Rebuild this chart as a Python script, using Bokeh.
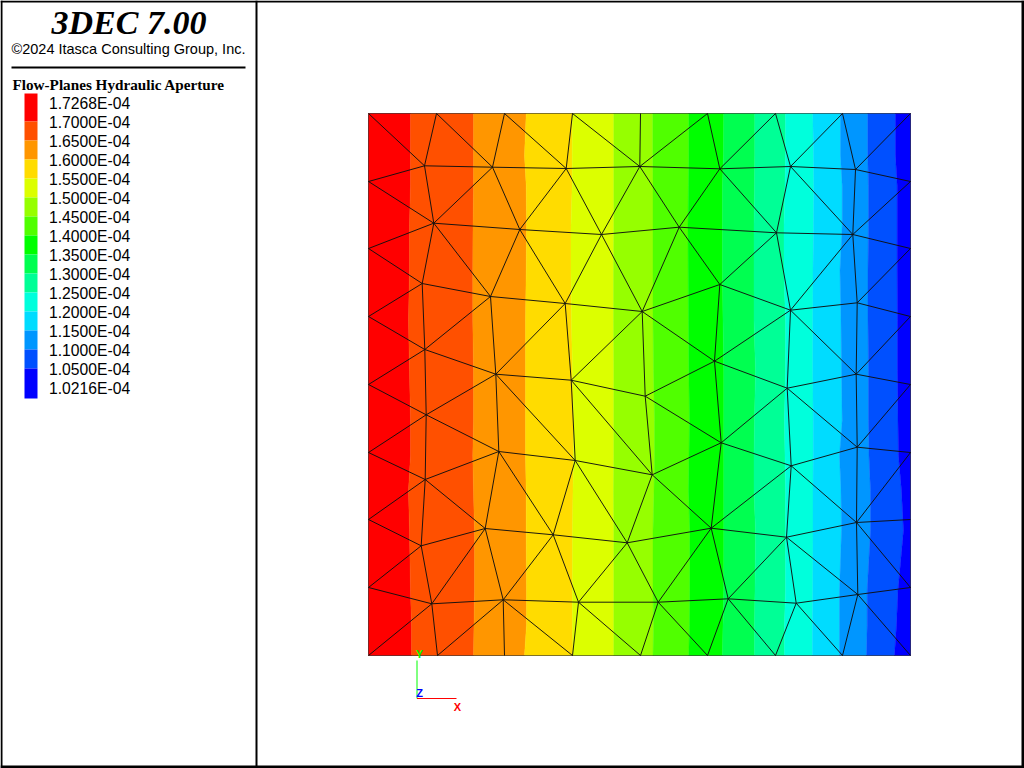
from bokeh.plotting import figure
from bokeh.embed import file_html
from bokeh.resources import INLINE
from bokeh.core.properties import value

# ---------- data ----------
title_text = "3DEC 7.00"
copyright_text = "\u00a92024 Itasca Consulting Group, Inc."
legend_title = "Flow-Planes Hydraulic Aperture"
legend_labels = ["1.7268E-04", "1.7000E-04", "1.6500E-04", "1.6000E-04", "1.5500E-04",
                 "1.5000E-04", "1.4500E-04", "1.4000E-04", "1.3500E-04", "1.3000E-04",
                 "1.2500E-04", "1.2000E-04", "1.1500E-04", "1.1000E-04", "1.0500E-04",
                 "1.0216E-04"]
band_colors = ["#FF0000", "#FF5000", "#FF9600", "#FFDC00", "#DCFF00", "#96FF00", "#50FF00",
               "#00FF00", "#00FF50", "#00FF96", "#00FFDC", "#00DCFF", "#0096FF", "#0050FF",
               "#0000FF"]

# contour level boundaries: x at each sampled height
sample_y = [113, 155, 185, 225, 270, 320, 370, 420, 455, 490, 530, 590, 625, 655]
level_170 = [410, 410, 410, 409, 409, 408, 409, 410, 410, 408, 409, 410, 411, 411]
level_165 = [473, 473, 473, 472.5, 472.3, 472.3, 473, 473, 472.3, 473, 474, 474, 473.5, 473]
level_160 = [525.7, 524, 525.7, 526, 525.7, 525, 525, 525, 525, 525.7, 525.7, 526, 526, 524]
level_155 = [571.7, 571.7, 571.7, 570.5, 570.5, 571, 572, 573, 573, 572.5, 572, 572, 572, 572.5]
level_150 = [613.3, 613.3, 613.3, 613.3, 613, 613, 613.3, 613.3, 613.3, 613, 613.3, 613.3, 613.3, 613.3]
level_145 = [652.3, 652.3, 652.5, 652.5, 652.5, 652.5, 653, 654, 654, 653.5, 652.5, 652.5, 653, 652.5]
level_140 = [688.3, 688.3, 688, 687.5, 687.7, 688, 688.3, 689, 688.5, 688, 689.3, 689.3, 689, 688.3]
level_135 = [723.3, 723, 722, 722, 722, 722.5, 723.3, 723.3, 723.3, 723.3, 723.3, 723.3, 722.5, 722]
level_130 = [754.3, 754.3, 754, 753.5, 753.5, 753.5, 755, 754, 753.5, 753.5, 755, 754.5, 754, 754]
level_125 = [785, 785, 784.5, 783.5, 783.5, 785, 785, 784, 784.5, 785, 785, 785, 784, 784]
level_120 = [812.3, 813, 813.3, 813, 812.5, 812.3, 812.3, 812.7, 812.7, 812.5, 812.5, 812.3, 812, 812]
level_115 = [840, 840, 841.7, 841.7, 839.5, 840.5, 841, 841.7, 839, 840.5, 841, 839, 839, 839]
level_110 = [867.3, 867.3, 868, 868, 867.5, 867.5, 868, 868, 868.5, 870, 870, 866.7, 866.7, 866]
level_105 = [895, 895, 896.7, 896.7, 896.7, 897, 897, 897.5, 898, 901, 903, 897.5, 896, 894]
plate_left = [368] * 14
plate_right = [910] * 14

# mesh nodes
nodes = {
    "T0": (368, 113), "T1": (436, 113), "T2": (504, 113), "T3": (572, 113), "T4": (640, 113),
    "T5": (707, 113), "T6": (775, 113), "T7": (842, 113), "T8": (910, 113),
    "S0": (368, 655), "S1": (437, 655), "S2": (504, 655), "S3": (572, 655), "S4": (640, 655),
    "S5": (707, 655), "S6": (775, 655), "S7": (842, 655), "S8": (910, 655),
    "L1": (368, 181), "L2": (368, 248), "L3": (368, 316), "L4": (368, 384),
    "L5": (368, 452), "L6": (368, 519), "L7": (368, 587),
    "R1": (910, 181), "R2": (910, 248), "R3": (910, 316), "R4": (910, 384),
    "R5": (910, 452), "R6": (910, 519), "R7": (910, 587),
    "A1": (424, 165.3), "A2": (492, 166.7), "A3": (565.7, 168), "A4": (639.3, 166),
    "A5": (719.3, 168.3), "A6": (790, 166), "A7": (855, 169),
    "B1": (433.3, 222.7), "B2": (519.3, 229), "B3": (601, 234), "B4": (678.7, 226.7),
    "B5": (776, 232.3), "B6": (852.3, 234),
    "C1": (421.7, 283), "C2": (490, 296), "C3": (564.7, 303), "C4": (641.7, 311),
    "C5": (719.3, 284), "C6": (790, 309.7), "C7": (856.7, 302.3),
    "D1": (424.3, 349), "D2": (495.3, 373.7), "D3": (570.7, 379.7), "D4": (644.7, 395.7),
    "D5": (714, 360.7), "D6": (786.7, 387.7), "D7": (855.7, 373.7),
    "E1": (425.7, 414.3), "E2": (498.3, 451), "E3": (574.7, 460), "E4": (651.7, 474.3),
    "E5": (720.7, 442.3), "E6": (790.7, 465.3), "E7": (856.7, 446.7),
    "F1": (424.7, 479), "F2": (484.7, 528), "F3": (552.7, 534.3), "F4": (626.7, 542.3),
    "F5": (710.7, 527.7), "F6": (786, 536.7), "F7": (856, 522),
    "G1": (420.7, 545.3), "G2": (431.3, 603.3), "G3": (502.7, 599.3), "G4": (578, 601.7),
    "G5": (657.7, 601.7), "G6": (727.7, 598.3), "G7": (795.7, 602.7), "G8": (857.3, 594),
}
mesh_edges = """T0-A1 T1-A1 T1-A2 T2-A2 T2-A3 T3-A3 T3-A4 T4-A4 T5-A4 T5-A5 T6-A5 T6-A6 T7-A6 T7-A7 T8-A7
A1-A2 A2-A3 A3-A4 A4-A5 A5-A6 A6-A7 L1-A1 L1-B1 A1-B1 A2-B1 A2-B2 A3-B2 A3-B3 A4-B3 A4-B4 A5-B4
A5-B5 A6-B5 A6-B6 A7-B6 A7-R1 B1-B2 B2-B3 B3-B4 B4-B5 B5-B6 B6-R1 B6-R2
L2-B1 L2-C1 B1-C1 B1-C2 B2-C2 B2-C3 B3-C3 B3-C4 B4-C4 B4-C5 B5-C5 B5-C6 B6-C6 B6-C7 C7-R2
C1-C2 C2-C3 C3-C4 C4-C5 C5-C6 C6-C7 C7-R3 L3-C1 L3-D1 C1-D1 C2-D1 C2-D2 C3-D2 C3-D3 C4-D3 C4-D4
C4-D5 C5-D5 C6-D5 C6-D6 C6-D7 C7-D7 D7-R3 D7-R4 D1-D2 D2-D3 D3-D4 D4-D5 D5-D6 D6-D7
L4-D1 L4-E1 D1-E1 D2-E1 D2-E2 D2-E3 D3-E3 D3-E4 D4-E4 D4-E5 D5-E5 D6-E5 D6-E6 D6-E7 D7-E7 E7-R4
E1-E2 E2-E3 E3-E4 E4-E5 E5-E6 E6-E7 E7-R5 L5-E1 L5-F1 E1-F1 E2-F1 E2-F2 E2-F3 E3-F3 E3-F4 E4-F4
E4-F5 E5-F5 E6-F5 E6-F6 E6-F7 E7-F7 F7-R5 F7-R6 F1-F2 F2-F3 F3-F4 F4-F5 F5-F6 F6-F7
L6-F1 L6-G1 F1-G1 F2-G1 F2-G2 F2-G3 F3-G3 F3-G4 F4-G4 F4-G5 F5-G5 F5-G6 F6-G6 F6-G7 F6-G8 F7-G8 F7-R7
G1-G2 G2-G3 G3-G4 G4-G5 G5-G6 G6-G7 G7-G8 G8-R7 L7-G1 L7-G2 S0-G2 S1-G2 S1-G3 S2-G3 S3-G3 S3-G4
S4-G4 S4-G5 S5-G5 S5-G6 S6-G6 S6-G7 S7-G7 S7-G8 S8-G8""".split()
boundary_nodes = ["T0", "T1", "T2", "T3", "T4", "T5", "T6", "T7", "T8", "R1", "R2", "R3", "R4",
                  "R5", "R6", "R7", "S8", "S7", "S6", "S5", "S4", "S3", "S2", "S1", "S0",
                  "L7", "L6", "L5", "L4", "L3", "L2", "L1", "T0"]

# ---------- page ----------
W, H = 1024, 768
p = figure(width=W, height=H, x_range=(0, W), y_range=(H, 0),
           output_backend="svg", toolbar_location=None, min_border=0,
           outline_line_color=None, background_fill_color="white", border_fill_color="white")
p.axis.visible = False
p.grid.visible = False

# filled contour bands
levels = [plate_left, level_170, level_165, level_160, level_155, level_150, level_145, level_140,
          level_135, level_130, level_125, level_120, level_115, level_110, level_105, plate_right]
xs, ys = [], []
for a, b in zip(levels[:-1], levels[1:]):
    xs.append(list(a) + list(b)[::-1])
    ys.append(sample_y + sample_y[::-1])
p.patches(xs, ys, fill_color=band_colors, line_color=band_colors, line_width=0.4)

# mesh
mx0, my0, mx1, my1 = [], [], [], []
for e in mesh_edges:
    a, b = e.split("-")
    mx0.append(nodes[a][0]); my0.append(nodes[a][1])
    mx1.append(nodes[b][0]); my1.append(nodes[b][1])
p.segment(mx0, my0, mx1, my1, line_color="#101010", line_width=0.95)
p.line([nodes[n][0] for n in boundary_nodes], [nodes[n][1] for n in boundary_nodes],
       line_color="black", line_alpha=0.5, line_width=1)

# frame and divider
p.quad(left=[0, 0, 0, 1021], right=[W, W, 2, W], top=[0, 765, 0, 0], bottom=[2, H, H, H],
       fill_color="black", line_color=None)
p.quad(left=[255, 11], right=[257, 245], top=[0, 66], bottom=[H, 68],
       fill_color="black", line_color=None)

# header text
p.text([128.5], [22], text=[title_text], text_font=value("Liberation Serif"),
       text_font_style="bold italic", text_font_size="34px", text_align="center",
       text_baseline="middle", text_color="black")
p.text([128], [48.5], text=[copyright_text], text_font=value("Liberation Sans"),
       text_font_size="14.5px", text_align="center", text_baseline="middle", text_color="black")
p.text([12], [84], text=[legend_title], text_font=value("Liberation Serif"),
       text_font_style="bold", text_font_size="15.2px", text_align="left",
       text_baseline="middle", text_color="black")

# colour key
n = len(legend_labels)
label_y = [103 + 19 * i for i in range(n)]
edges = [93] + [121 + 19 * i for i in range(14)] + [398]
p.quad(left=[24] * 15, right=[37] * 15, top=edges[:-1], bottom=edges[1:],
       fill_color=band_colors, line_color=None)
p.text([48.5] * n, label_y, text=legend_labels, text_font=value("Liberation Sans"),
       text_font_size="15.7px", text_align="left", text_baseline="middle", text_color="black")

# axis triad
p.segment([416.5], [698], [416.5], [660], line_color="#00FF00", line_width=1)
p.segment([416.5], [698], [456], [698], line_color="#FF0000", line_width=1)
p.text([419], [653.5], text=["Y"], text_font=value("Liberation Sans"), text_font_style="bold",
       text_font_size="11px", text_align="center", text_baseline="middle", text_color="#00FF00")
p.text([419], [692], text=["Z"], text_font=value("Liberation Sans"), text_font_style="bold",
       text_font_size="11px", text_align="center", text_baseline="middle", text_color="#0000FF")
p.text([457], [706], text=["X"], text_font=value("Liberation Sans"), text_font_style="bold",
       text_font_size="11px", text_align="center", text_baseline="middle", text_color="#FF0000")

open("out.html", "w").write(file_html(p, INLINE))
